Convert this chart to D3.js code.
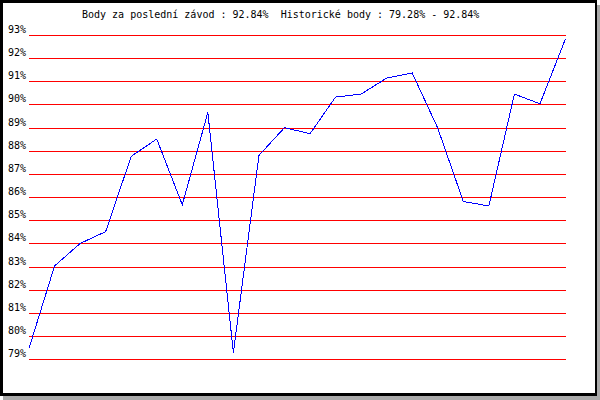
<!DOCTYPE html>
<html>
<head>
<meta charset="utf-8">
<script src="https://cdn.jsdelivr.net/npm/d3@7"></script>
<style>
  body { margin: 0; background: #fff; }
  svg { display: block; }
  text { font-family: "DejaVu Sans Mono", monospace; font-size: 10px; fill: #000; white-space: pre; }
</style>
</head>
<body>
<svg id="s" width="600" height="400"></svg>
<script>
// body po závodech (%)
const points = [79.47, 83.03, 84.0, 84.51, 87.76, 88.51, 85.67, 89.66, 79.28, 87.8, 89.0,
  88.74, 90.32, 90.45, 91.14, 91.36, 88.98, 85.81, 85.62, 90.45, 90.03, 92.84];
const ticks = [79, 80, 81, 82, 83, 84, 85, 86, 87, 88, 89, 90, 91, 92, 93];
const title = 'Body za poslední závod : 92.84%  Historické body : 79.28% - 92.84%';

const svg = d3.select('#s');

// frame + shadow
svg.append('rect').attr('x', 3).attr('y', 5).attr('width', 597).attr('height', 395).attr('fill', '#aaa');
svg.append('rect').attr('x', 0).attr('y', 0).attr('width', 597).attr('height', 396).attr('fill', '#000');
svg.append('rect').attr('x', 3).attr('y', 3).attr('width', 592).attr('height', 390).attr('fill', '#fff');

const x = d3.scaleLinear().domain([0, points.length - 1]).range([29, 565.5]);
const y = d3.scaleLinear().domain([79, 93]).range([359.3, 35]);

svg.append('text')
  .attr('x', 82)
  .attr('y', 18)
  .attr('xml:space', 'preserve')
  .text(title);

const g = svg.append('g');
g.selectAll('line')
  .data(ticks)
  .enter()
  .append('line')
  .attr('x1', 29)
  .attr('x2', 566)
  .attr('y1', d => Math.round(y(d)) + 0.5)
  .attr('y2', d => Math.round(y(d)) + 0.5)
  .attr('stroke', '#ff0000')
  .attr('shape-rendering', 'crispEdges');

g.selectAll('text')
  .data(ticks)
  .enter()
  .append('text')
  .attr('x', 8)
  .attr('y', d => Math.round(y(d)) - 2)
  .text(d => d + '%');

const line = d3.line()
  .x((d, i) => x(i))
  .y(d => y(d));

svg.append('path')
  .datum(points)
  .attr('d', line)
  .attr('fill', 'none')
  .attr('stroke', '#0000ff')
  .attr('stroke-width', 1)
  .attr('shape-rendering', 'crispEdges');
</script>
</body>
</html>
